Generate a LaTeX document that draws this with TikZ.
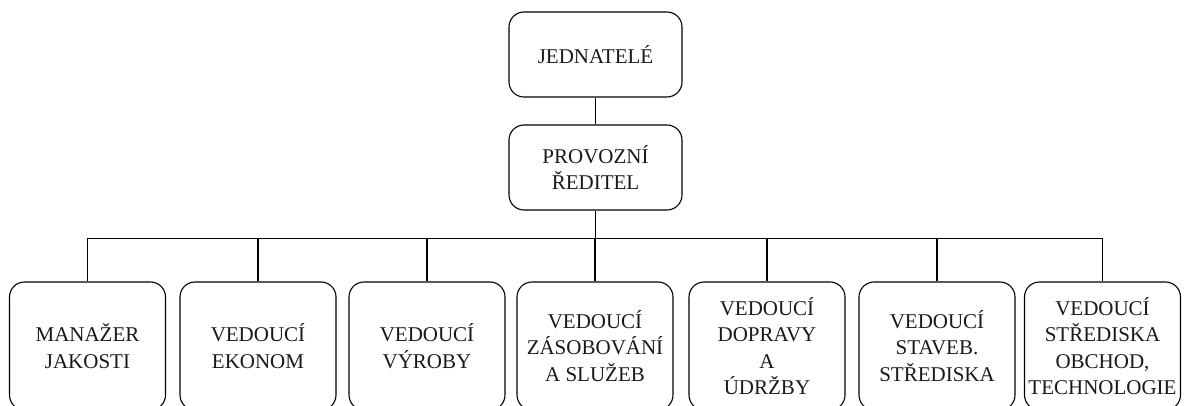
\documentclass[tikz,border=0pt]{standalone}
\usepackage{fontspec}
\setmainfont{Liberation Serif}
\usetikzlibrary{calc}
\begin{document}
\begin{tikzpicture}[x=1pt,y=1pt,
  box/.style={draw, line width=1.1pt, rounded corners=15pt, align=center,
    minimum width=156pt, minimum height=128pt, inner sep=0pt,
    font=\fontsize{21}{26.5}\selectfont, text=black!90},
  topbox/.style={box, minimum width=173pt, minimum height=85pt},
  conn/.style={line width=1.1pt}]
\useasboundingbox (0,0) rectangle (1187,405);
\node[topbox] (top) at (595.5,350.5) {JEDNATELÉ};
\node[topbox] (mid) at (595.5,237.5) {PROVOZNÍ\\ŘEDITEL};
\node[box] (b1) at (87.5,59) {MANAŽER\\JAKOSTI};
\node[box] (b2) at (258,59) {VEDOUCÍ\\EKONOM};
\node[box] (b3) at (427,59) {VEDOUCÍ\\VÝROBY};
\node[box] (b4) at (595,59) {VEDOUCÍ\\ZÁSOBOVÁNÍ\\A SLUŽEB};
\node[box] (b5) at (767,59) {VEDOUCÍ\\DOPRAVY\\A\\ÚDRŽBY};
\node[box] (b6) at (937,59) {VEDOUCÍ\\STAVEB.\\STŘEDISKA};
\node[box] (b7) at (1102.5,59) {VEDOUCÍ\\STŘEDISKA\\OBCHOD,\\TECHNOLOGIE};
\draw[conn] (top) -- (mid);
\coordinate (bus) at ($(mid.south)+(0,-28)$);
\draw[conn] (mid.south) -- (bus);
\foreach \i in {1,...,7} {\draw[conn] (bus) -| (b\i.north);}
\end{tikzpicture}
\end{document}
